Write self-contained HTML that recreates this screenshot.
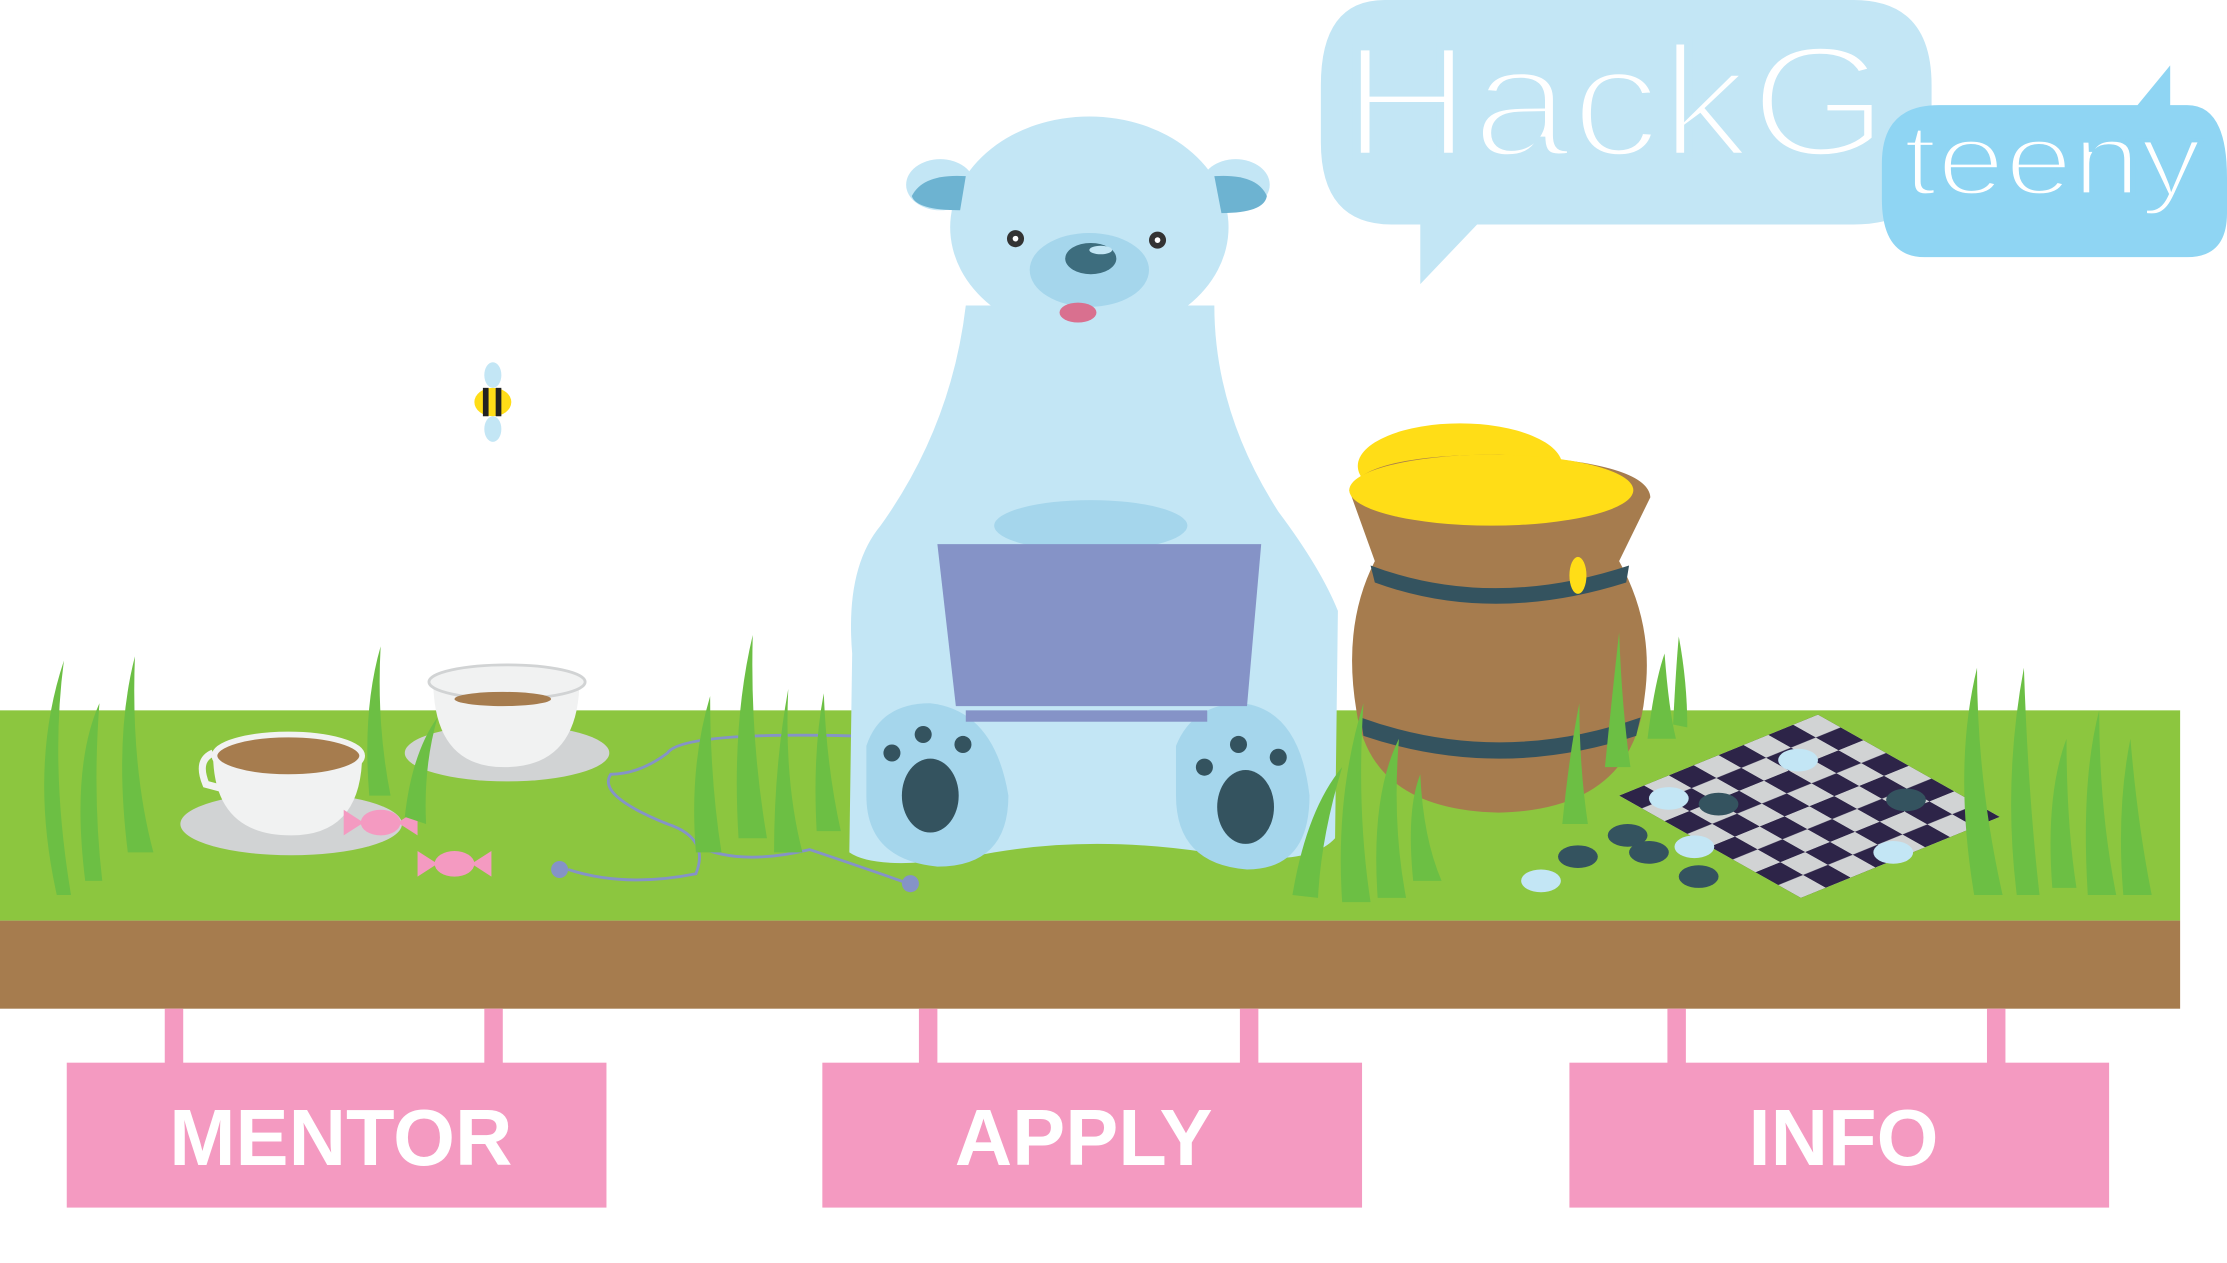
<!DOCTYPE html>
<html><head><meta charset="utf-8"><style>
html,body{margin:0;padding:0;background:#fff;width:2227px;height:1263px;overflow:hidden}
svg{display:block}
</style></head><body>
<svg width="2227" height="1263" viewBox="0 0 1568 889" preserveAspectRatio="none" xmlns="http://www.w3.org/2000/svg">
<defs>
<pattern id="chk" x="0" y="0" width="2" height="2" patternUnits="userSpaceOnUse">
<rect x="0" y="0" width="2" height="2" fill="#d1d3d4"/>
<rect x="0" y="0" width="1" height="1" fill="#2d2448"/>
<rect x="1" y="1" width="1" height="1" fill="#2d2448"/>
</pattern>
</defs>
<!-- speech bubbles -->
<path d="M975,0 H1305 Q1360,0 1360,60 V110 Q1360,158 1305,158 H1040 L1000,200 V158 H980 Q930,158 930,100 V60 Q930,0 975,0Z" fill="#c3e6f5"/>
<text x="945" y="110" font-family="Liberation Sans, sans-serif" font-size="112" fill="#fff" stroke="#c3e6f5" stroke-width="5" textLength="385" lengthAdjust="spacingAndGlyphs">HackG</text>
<path d="M1365,74 H1505 L1528,46 V74 H1540 Q1568,74 1568,125 V150 Q1568,181 1540,181 H1355 Q1325,181 1325,140 V115 Q1325,74 1365,74Z" fill="#8fd5f3"/>
<text x="1340" y="137" font-family="Liberation Sans, sans-serif" font-size="72" fill="#fff" stroke="#8fd5f3" stroke-width="3" textLength="210" lengthAdjust="spacingAndGlyphs">teeny</text>
<!-- ground -->
<rect x="0" y="500" width="1535" height="148" fill="#8cc63f"/>
<rect x="0" y="648" width="1535" height="62" fill="#a67c4e"/>
<!-- posts and buttons -->
<g fill="#f49ac1">
<rect x="116" y="710" width="13" height="40"/><rect x="341" y="710" width="13" height="40"/>
<rect x="647" y="710" width="13" height="40"/><rect x="873" y="710" width="13" height="40"/>
<rect x="1174" y="710" width="13" height="40"/><rect x="1399" y="710" width="13" height="40"/>
<rect x="47" y="748" width="380" height="102"/><rect x="579" y="748" width="380" height="102"/><rect x="1105" y="748" width="380" height="102"/>
</g>
<g font-family="Liberation Sans, sans-serif" font-weight="bold" font-size="56" fill="#fff" text-anchor="middle">
<text x="240" y="820">MENTOR</text><text x="763" y="820">APPLY</text><text x="1298" y="820">INFO</text>
</g>
<!-- bee -->
<ellipse cx="347" cy="264" rx="6" ry="9" fill="#c3e6f5"/><ellipse cx="347" cy="302" rx="6" ry="9" fill="#c3e6f5"/>
<ellipse cx="347" cy="283" rx="13" ry="10" fill="#ffdd17"/>
<rect x="340" y="273" width="4" height="20" fill="#222"/><rect x="349" y="273" width="4" height="20" fill="#222"/>
<!-- teacups -->
<ellipse cx="357" cy="530" rx="72" ry="20" fill="#d1d3d4"/>
<path d="M305,478 Q305,540 355,540 Q408,540 408,478Z" fill="#f1f2f2"/>
<ellipse cx="357" cy="480" rx="55" ry="12" fill="#f1f2f2" stroke="#d1d3d4" stroke-width="2"/>
<ellipse cx="354" cy="492" rx="34" ry="5" fill="#a67c4e"/>
<ellipse cx="205" cy="580" rx="78" ry="22" fill="#d1d3d4"/>
<path d="M150,530 Q150,588 205,588 Q255,588 255,530Z" fill="#f1f2f2"/>
<ellipse cx="203" cy="532" rx="52" ry="15" fill="#a67c4e" stroke="#f1f2f2" stroke-width="4"/>
<path d="M150,530 Q138,535 145,552 L160,556" fill="none" stroke="#f1f2f2" stroke-width="5"/>
<!-- candies -->
<g fill="#f49ac1"><ellipse cx="268" cy="579" rx="14" ry="9"/><path d="M242,570 L256,579 L242,588Z M294,570 L280,579 L294,588Z"/>
<ellipse cx="320" cy="608" rx="14" ry="9"/><path d="M294,599 L308,608 L294,617Z M346,599 L332,608 L346,617Z"/></g>
<!-- earphone cable -->
<path d="M600,518 Q480,515 470,530 Q450,545 430,545 Q420,560 470,580 Q500,590 490,615 Q440,625 400,612" fill="none" stroke="#8593c7" stroke-width="2"/>
<path d="M490,595 Q520,610 570,598 Q600,608 640,622" fill="none" stroke="#8593c7" stroke-width="2"/>
<circle cx="394" cy="612" r="6" fill="#8593c7"/><circle cx="641" cy="622" r="6" fill="#8593c7"/>
<!-- bear -->
<path d="M680,215 Q670,300 620,370 Q595,400 600,460 L598,600 Q620,615 700,600 Q770,588 850,600 Q920,612 940,590 L942,430 Q930,400 900,360 Q855,290 855,215Z" fill="#c3e6f5"/>
<ellipse cx="767" cy="160" rx="98" ry="78" fill="#c3e6f5"/>
<ellipse cx="662" cy="130" rx="24" ry="18" fill="#c3e6f5"/><ellipse cx="870" cy="130" rx="24" ry="18" fill="#c3e6f5"/>
<path d="M642,138 Q650,122 680,124 L676,148 Q645,148 642,138Z" fill="#6db3d1"/>
<path d="M892,138 Q885,122 855,124 L860,150 Q890,150 892,138Z" fill="#6db3d1"/>
<ellipse cx="767" cy="190" rx="42" ry="26" fill="#a5d6ec"/>
<ellipse cx="768" cy="182" rx="18" ry="11" fill="#3d6d7e"/><ellipse cx="775" cy="176" rx="8" ry="3" fill="#c3e6f5"/>
<ellipse cx="759" cy="220" rx="13" ry="7" fill="#d9708f"/>
<circle cx="715" cy="168" r="6" fill="#333"/><circle cx="815" cy="169" r="6" fill="#333"/>
<circle cx="715" cy="168" r="2" fill="#fff"/><circle cx="815" cy="169" r="2" fill="#fff"/>
<ellipse cx="768" cy="370" rx="68" ry="18" fill="#a5d6ec"/>
<!-- legs -->
<path d="M610,525 Q620,495 655,495 Q700,500 710,560 Q710,610 660,610 Q610,605 610,560Z" fill="#a5d6ec"/>
<path d="M828,525 Q840,495 875,495 Q915,500 922,560 Q922,612 878,612 Q828,608 828,560Z" fill="#a5d6ec"/>
<g fill="#34535f"><ellipse cx="655" cy="560" rx="20" ry="26"/><ellipse cx="877" cy="568" rx="20" ry="26"/>
<circle cx="628" cy="530" r="6"/><circle cx="650" cy="517" r="6"/><circle cx="678" cy="524" r="6"/>
<circle cx="848" cy="540" r="6"/><circle cx="872" cy="524" r="6"/><circle cx="900" cy="533" r="6"/></g>
<!-- laptop -->
<path d="M660,383 H888 L878,497 H673Z" fill="#8593c7"/>
<rect x="680" y="500" width="170" height="8" fill="#8593c7"/>
<!-- pot -->
<ellipse cx="1028" cy="328" rx="72" ry="30" fill="#ffdd17"/>
<path d="M950,345 Q960,320 1055,320 Q1160,325 1162,350 L1140,395 Q1165,440 1158,490 Q1150,570 1055,572 Q965,570 955,500 Q945,440 968,395Z" fill="#a67c4e"/>
<ellipse cx="1050" cy="345" rx="100" ry="25" fill="#ffdd17"/>
<path d="M965,398 Q1050,430 1147,398 L1145,410 Q1050,440 968,410Z" fill="#34535f"/>
<path d="M958,505 Q1055,540 1155,505 L1152,518 Q1055,550 960,518Z" fill="#34535f"/>
<ellipse cx="1111" cy="405" rx="6" ry="13" fill="#ffdd17"/>
<!-- checkerboard -->
<g transform="matrix(17.5,-7.125,16,9,1140,560)">
<rect x="0" y="0" width="8" height="8" fill="url(#chk)"/>
</g>
<g fill="#34535f"><ellipse cx="1111" cy="603" rx="14" ry="8"/><ellipse cx="1146" cy="588" rx="14" ry="8"/><ellipse cx="1161" cy="600" rx="14" ry="8"/><ellipse cx="1196" cy="617" rx="14" ry="8"/><ellipse cx="1210" cy="566" rx="14" ry="8"/><ellipse cx="1342" cy="563" rx="14" ry="8"/></g>
<g fill="#c3e6f5"><ellipse cx="1085" cy="620" rx="14" ry="8"/><ellipse cx="1193" cy="596" rx="14" ry="8"/><ellipse cx="1175" cy="562" rx="14" ry="8"/><ellipse cx="1266" cy="535" rx="14" ry="8"/><ellipse cx="1333" cy="600" rx="14" ry="8"/></g>
<!-- grass -->
<g fill="#6cbf44">
<path d="M40,630 Q20,540 45,465 Q35,540 50,630Z"/><path d="M60,620 Q50,540 70,495 Q65,560 72,620Z"/><path d="M90,600 Q80,520 95,462 Q92,540 108,600Z"/>
<path d="M260,560 Q255,500 268,455 Q265,510 275,560Z"/><path d="M285,575 Q290,530 308,505 Q298,540 300,580Z"/>
<path d="M490,600 Q485,540 500,490 Q500,550 508,600Z"/><path d="M520,590 Q515,510 530,447 Q528,520 540,590Z"/><path d="M545,600 Q545,540 555,485 Q552,550 565,600Z"/><path d="M575,585 Q572,530 580,488 Q582,540 592,585Z"/>
<path d="M910,630 Q920,570 945,540 Q930,590 928,632Z"/><path d="M945,635 Q940,560 960,495 Q955,570 965,635Z"/><path d="M970,632 Q965,560 985,520 Q980,580 990,632Z"/><path d="M995,620 Q990,570 1000,545 Q1002,590 1015,620Z"/>
<path d="M1100,580 Q1105,530 1112,495 Q1112,540 1118,580Z"/><path d="M1130,540 Q1135,490 1140,445 Q1142,500 1148,540Z"/><path d="M1160,520 Q1165,480 1172,460 Q1175,500 1180,520Z"/><path d="M1178,510 Q1180,470 1182,448 Q1188,480 1188,512Z"/>
<path d="M1390,630 Q1375,540 1392,470 Q1392,550 1410,630Z"/><path d="M1420,630 Q1410,550 1425,470 Q1428,560 1436,630Z"/><path d="M1445,625 Q1440,560 1455,520 Q1455,580 1462,625Z"/><path d="M1470,630 Q1465,550 1478,500 Q1478,570 1490,630Z"/><path d="M1495,630 Q1490,570 1500,520 Q1505,580 1515,630Z"/>
</g>
</svg>
</body></html>
